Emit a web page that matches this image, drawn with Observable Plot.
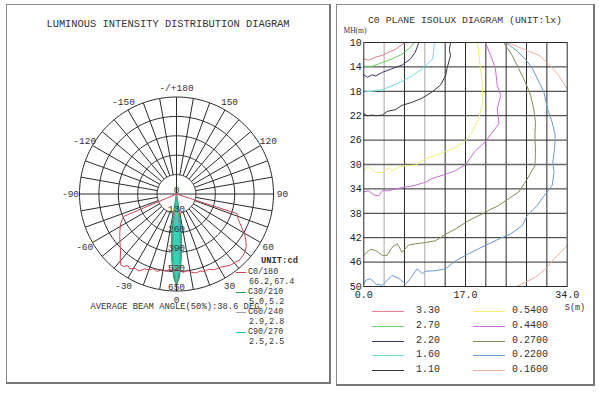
<!DOCTYPE html>
<html><head><meta charset="utf-8">
<script src="https://cdn.jsdelivr.net/npm/d3@7"></script>
<script src="https://cdn.jsdelivr.net/npm/@observablehq/plot@0.6"></script>
<style>
body{margin:0;background:#fff;}
#page{position:relative;width:599px;height:397px;overflow:hidden;font-family:"Liberation Mono",monospace;color:#222;}
.panel{position:absolute;box-sizing:border-box;border:1px solid #8a8a8a;}
.t{position:absolute;white-space:nowrap;transform:translate(-50%,-50%);line-height:1;}
.l{position:absolute;white-space:nowrap;transform:translateY(-50%);line-height:1;}
.sw{position:absolute;height:0;border-top:1px solid;}
.plotbox{position:absolute;top:0;}
</style></head>
<body><div id="page">
<div class="panel" style="left:6px;top:4px;width:325px;height:380px;border-right:2px solid #777;border-bottom:2px solid #777;"></div>
<div class="panel" style="left:336px;top:4px;width:259px;height:382px;border-right:2px solid #777;border-bottom:2px solid #777;"></div>
<div id="left" class="plotbox" style="left:0px"></div>
<div id="right" class="plotbox" style="left:336px"></div>
<div class="t" style="left:168px;top:24px;font-size:10.4px;color:#333">LUMINOUS INTENSITY DISTRIBUTION DIAGRAM</div>
<div class="t" style="left:175px;top:307px;font-size:8.8px;color:#333">AVERAGE BEAM ANGLE(50%):38.6 DEG</div>
<div class="l" style="left:261px;top:261px;font-size:8.8px;font-weight:bold;color:#333">UNIT:cd</div>
<div id="leftLegend"></div>
<div class="t" style="left:465px;top:21px;font-size:9.8px;color:#333">C0 PLANE ISOLUX DIAGRAM (UNIT:lx)</div>
<div class="t" style="left:355px;top:31px;font-size:7.5px;font-family:'Liberation Serif',serif;color:#333">MH(m)</div>
<div class="t" style="left:575px;top:308px;font-size:8.5px;color:#333">S(m)</div>
<div id="rightLegend"></div>
</div>
<script>
// ---------- Polar (luminous intensity) data ----------
const ringValues = [130, 260, 390, 520, 650];
const angleTicks = [0, 30, 60, 90, 120, 150, 180, -150, -120, -90, -60, -30];
const angleTickLabels = ["0", "30", "60", "90", "120", "150", "-/+180", "-150", "-120", "-90", "-60", "-30"];

const c0Angles = [-68,-67,-65,-62,-59,-56,-53,-50,-47,-44,-41,-38,-36,-34,-32,-29,-26,-23,-20,-17,-14,-11,-8,-5,-2,0,2,5,8,11,14,17,20,23,26,29,32,35,38,41,44,47,50,53,56,59,62,65,68,71,72,73];
const c0Values = [0,382,400,425,440,458,476,495,515,540,575,605,600,580,590,570,575,545,540,525,535,515,522,505,520,500,512,528,515,535,545,540,552,548,565,570,575,590,600,603,612,608,600,585,560,535,500,470,445,432,427,0];
const c30Angles = [-9,-7,-5,-3,-1,0,1,3,5,7,9];
const c30Values = [0,120,280,450,580,600,580,450,280,120,0];
const c60Angles = [-8,-6,-4,-2,0,2,4,6,8];
const c60Values = [0,150,330,500,590,500,330,150,0];
const c90Angles = [-12,-10,-8,-6,-4,-2,0,2,4,6,8,10,12];
const c90Values = [0,80,200,330,450,560,610,560,450,330,200,80,0];

const legendNames = ["C0/180", "C30/210", "C60/240", "C90/270"];
const legendBeams = ["66.2,67.4", "5.0,5.2", "2.9,2.8", "2.5,2.5"];
const legendColors = ["#c8485a", "#2e9e5a", "#a0a0a0", "#22c4b4"];

// ---------- Isolux data: [S (m), MH (m)] ----------
const isoLevels = ["3.30", "2.70", "2.20", "1.60", "1.10", "0.5400", "0.4400", "0.2700", "0.2200", "0.1600"];
const isoColors = ["#e07f8f", "#6ccf6c", "#3c3266", "#74dede", "#383838", "#eef07a", "#c86cd8", "#8a8a58", "#6a9ad0", "#e8b09e"];
const iso330 = [[0,12.7],[0.8,12.9],[2,12.4],[3.1,12.1],[4.2,11.6],[5.3,11.1],[6.9,10]];
const iso270 = [[0,13.9],[1.4,13.9],[3.1,13.3],[4.7,12.7],[6.4,11.9],[7.8,10.8],[8.4,10]];
const iso220 = [[0,15.3],[0.6,15.7],[1.4,15.3],[2,15.5],[3.1,14.9],[4.7,14.3],[6.4,13.7],[7.8,12.7],[8.6,11.6],[9.2,10]];
const iso160 = [[0,18.1],[1.4,18],[3.1,17.7],[5.3,16.9],[7.5,15.8],[9.8,14.3],[11.5,12.7],[11.7,11.2],[11.8,10]];
const iso110 = [[0,21.7],[0.6,22],[1.4,21.9],[2,22],[3.1,21.9],[3.9,21.3],[5.3,21],[6.4,20.3],[8.1,19.8],[9.8,19.1],[11.4,18.1],[12.8,17],[13.7,15.4],[13.9,14.3],[14.5,12.1],[14.3,11.2],[14.5,10]];
const iso054 = [[19,10],[19.5,14.3],[19.8,17],[19.9,19.8],[19.2,22.5],[18.1,24.7],[17,26.1],[15.3,27.2],[14.2,27.7],[12,28.5],[10.3,29.1],[8.6,30.1],[7,30.2],[5.9,30.4],[4.7,31],[4.2,30.5],[3.1,31.3],[2,31.3],[0.8,30.4],[0,31]];
const iso044 = [[20.3,10],[21.2,12.1],[22,14.3],[22.3,17],[22.9,18.7],[22.3,20.9],[22.6,23.3],[21.5,24.7],[20.3,26.3],[18.7,27.7],[17,30],[15.3,31],[13.7,31.6],[11.4,32.3],[10.3,32.9],[8.6,33.4],[7,33.7],[5.3,34],[4.2,34.3],[3.1,34.3],[2.5,35.1],[1.7,35],[0.8,34.3],[0,34.5]];
const iso027 = [[23.4,10],[24.8,12.1],[25.9,14.3],[27,16.5],[27.9,18.7],[28.4,20.9],[28.7,23.1],[28.6,25.2],[28.7,28],[28.6,30.2],[27,32.9],[25.9,34.5],[24.2,35.6],[22.6,36.7],[20.9,37.5],[19.8,38.1],[18.1,38.9],[17,39.5],[15.3,40.6],[13.7,41.4],[12,42.5],[10.3,42.8],[8.6,43],[7.5,43.2],[6.4,44.4],[5.6,43],[4.7,43.6],[3.9,44.9],[3.1,44.9],[2,44.1],[1.1,43.9],[0.3,44.6],[0,44.9]];
const iso022 = [[23.7,10],[25.5,11.3],[27,12.7],[28.2,14.3],[29.3,16.5],[30.1,18.1],[30.7,20.9],[31.5,23.1],[32,25.2],[31.9,27.4],[31.6,29.6],[31.8,31.3],[31.5,33.4],[30.4,34.8],[29,36.7],[27.3,38.4],[26.5,40],[24.5,41.4],[22.6,42.2],[20.9,43],[19.2,43.8],[17.6,44.6],[17,44.9],[15.3,45.8],[13.7,47.1],[12,47.4],[10.3,47.5],[9.8,47.9],[8.9,47.1],[7.8,48.7],[7,49.6],[5.9,48.7],[4.7,48.2],[3.6,49.3],[3.1,49.8],[2,49.6],[1.1,48.7],[0.3,49],[0,49.6]];
const iso016a = [[24,10],[26.5,11],[29.3,12.1],[31.2,13.8],[32.6,15.4],[34,17.6]];
const iso016b = [[25.5,50],[27,49.3],[28.7,48.5],[30.4,47.1],[31.8,45.5],[33,44.3],[34,43.3]];
const xTicks = [0, 17, 34];
const yTicks = [10, 14, 18, 22, 26, 30, 34, 38, 42, 46, 50];
const xGrid = [3.4, 6.8, 10.2, 13.6, 17, 20.4, 23.8, 27.2, 30.6];
const yGrid = [14, 18, 22, 26, 30, 34, 38, 42, 46];
const xGridGray = [3.4, 10.2];

// ---------- Left: polar chart ----------
const k = 97 / 650;           // pixels per cd
const cx = 176, cy = 193.5;   // centre in pixels
const LW = 334, LH = 397;
const rad = Math.PI / 180;
const polar = (a, r) => ({x: r * Math.sin(a * rad), y: -r * Math.cos(a * rad)});
const outer = ringValues[ringValues.length - 1];
const ringPts = ringValues.flatMap(v => d3.range(0, 361, 2).map(a => ({...polar(a, v), ring: v})));
const spokes = d3.range(0, 360, 10).map(a => {
  const p1 = polar(a, a % 90 === 0 ? 0 : ringValues[0]);
  const p2 = polar(a, outer);
  return {x1: p1.x, y1: p1.y, x2: p2.x, y2: p2.y};
});
const series = (angles, values) => angles.map((a, i) => polar(a, values[i]));
const labelR = 106 / k;
const angleLabels = angleTicks.map((a, i) => ({...polar(a, labelR), text: angleTickLabels[i]}));
const ringLabels = [0, ...ringValues].map(v => ({x: 0, y: -v, text: String(v)}));

const left = Plot.plot({
  width: LW, height: LH, margin: 0,
  style: {fontFamily: "Liberation Mono, monospace", background: "transparent", color: "#222", overflow: "visible"},
  x: {type: "linear", domain: [-cx / k, (LW - cx) / k], axis: null},
  y: {type: "linear", domain: [(cy - LH) / k, cy / k], axis: null},
  marks: [
    Plot.line(ringPts, {x: "x", y: "y", z: "ring", stroke: "#2a2a2a", strokeWidth: 1}),
    Plot.link(spokes, {x1: "x1", y1: "y1", x2: "x2", y2: "y2", stroke: "#2a2a2a", strokeWidth: 1}),
    Plot.line(series(c90Angles, c90Values), {x: "x", y: "y", fill: "#3ad0bc", stroke: "#1f9c8a", strokeWidth: 1}),
    Plot.line(series(c30Angles, c30Values), {x: "x", y: "y", stroke: legendColors[1], strokeWidth: 1}),
    Plot.line(series(c60Angles, c60Values), {x: "x", y: "y", stroke: "#8a9a94", strokeWidth: 1}),
    Plot.line(series(c0Angles, c0Values), {x: "x", y: "y", stroke: legendColors[0], strokeWidth: 1}),
    Plot.text(angleLabels, {x: "x", y: "y", text: "text", fontSize: 9.5, fill: "#333"}),
    Plot.text(ringLabels, {x: "x", y: "y", text: "text", fontSize: 9.5, fill: "#333", dy: -4})
  ]
});
document.getElementById("left").appendChild(left);

// Left legend
const ll = document.getElementById("leftLegend");
legendNames.forEach((n, i) => {
  const y0 = 272 + i * 20;
  ll.insertAdjacentHTML("beforeend",
    `<div class="sw" style="left:236px;top:${y0}px;width:10px;border-top-color:${legendColors[i]}"></div>` +
    `<div class="l" style="left:248px;top:${y0}px;font-size:8.4px;color:#333">${n}</div>` +
    `<div class="l" style="left:249px;top:${y0 + 10}px;font-size:8.4px;color:#333">${legendBeams[i]}</div>`);
});

// ---------- Right: isolux chart ----------
const isoSets = [iso330, iso270, iso220, iso160, iso110, iso054, iso044, iso027, iso022, iso016a, iso016b];
const isoSetLevel = [0, 1, 2, 3, 4, 5, 6, 7, 8, 9, 9];
const isoRows = isoSets.flatMap((pts, j) => pts.map(([s, mh]) => ({s, mh, seg: j, level: isoLevels[isoSetLevel[j]]})));

const right = Plot.plot({
  width: 259, height: 397,
  marginLeft: 27.3, marginRight: 28.3, marginTop: 42, marginBottom: 111,
  style: {fontFamily: "Liberation Mono, monospace", fontSize: "10px", background: "transparent", color: "#222", overflow: "visible"},
  x: {domain: [0, 34], ticks: xTicks, tickFormat: d => d.toFixed(1), tickSize: 0, tickPadding: 4, label: null},
  y: {domain: [10, 50], reverse: true, ticks: yTicks, tickSize: 0, tickPadding: 2, label: null},
  color: {domain: isoLevels, range: isoColors},
  marks: [
    Plot.ruleX(xGrid, {stroke: d => xGridGray.includes(d) ? "#a8a8a8" : "#2a2a2a", strokeWidth: 1}),
    Plot.ruleY(yGrid, {stroke: d => d === 30 ? "#6a6a6a" : "#2a2a2a", strokeWidth: d => d === 30 ? 1.6 : 1}),
    Plot.line(isoRows, {x: "s", y: "mh", z: "seg", stroke: "level", strokeWidth: 1}),
    Plot.frame({stroke: "#2a2a2a"})
  ]
});
document.getElementById("right").appendChild(right);

// Right legend
const rl = document.getElementById("rightLegend");
isoLevels.forEach((lv, i) => {
  const col = Math.floor(i / 5), row = i % 5;
  const y0 = 311 + row * 14.8;
  const lx = col === 0 ? 372 : 473;
  const tx = col === 0 ? 416 : 512;
  rl.insertAdjacentHTML("beforeend",
    `<div class="sw" style="left:${lx}px;top:${y0}px;width:32px;border-top-color:${isoColors[i]}"></div>` +
    `<div class="l" style="left:${tx}px;top:${y0}px;font-size:10px;color:#333">${lv}</div>`);
});
</script>
</body></html>
